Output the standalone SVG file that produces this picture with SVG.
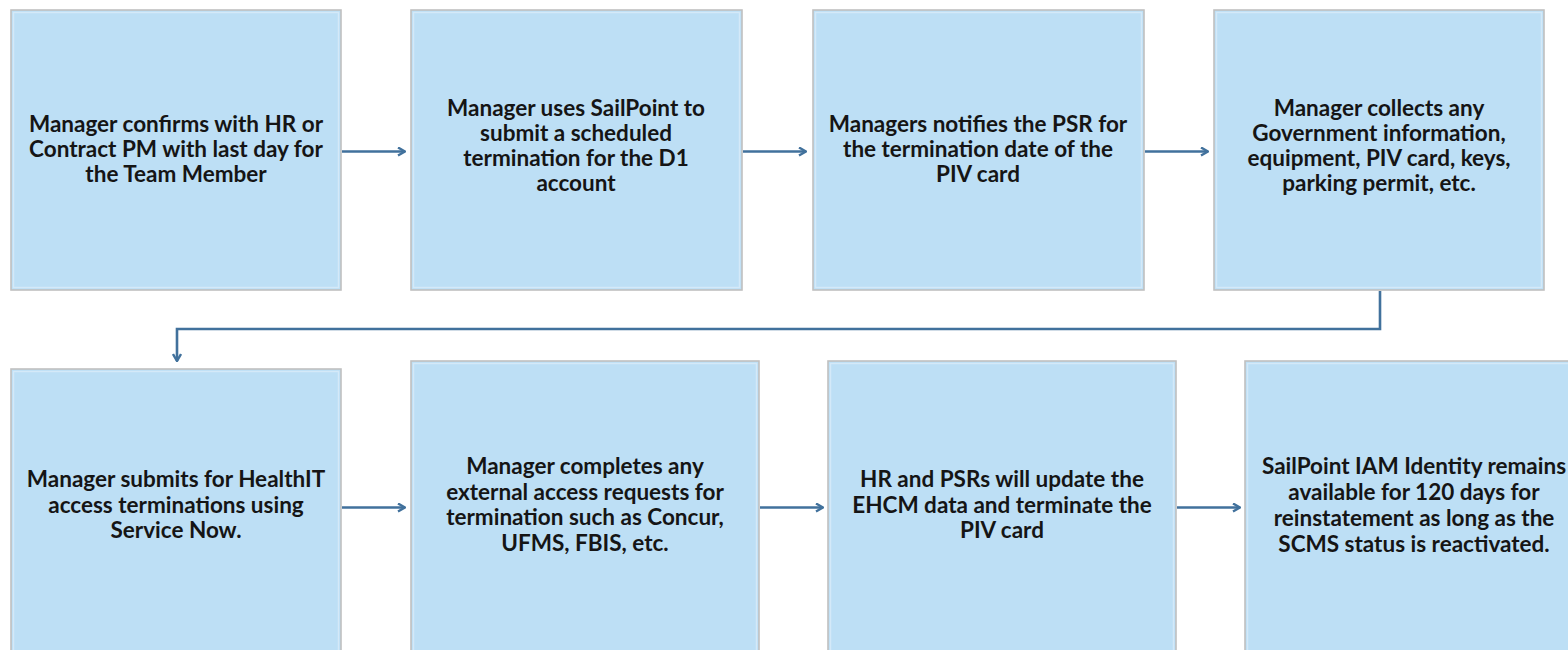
<svg xmlns="http://www.w3.org/2000/svg" width="1568" height="650" viewBox="0 0 1568 650">
  <style>
    .box { fill: #BDDFF5; stroke: #C0C0C0; stroke-width: 1.6; }
    .inner { fill: none; stroke: #D4E9F8; stroke-width: 1.4; }
    .lbl { font-family: Lato, "Open Sans", "Liberation Sans", sans-serif; font-weight: 700; font-size: 22.5px; fill: #151515; text-anchor: middle; }
    .conn { fill: none; stroke: #41719C; stroke-width: 2.6; }
  </style>
  <defs>
    <marker id="chev" viewBox="0 0 10 10" refX="9" refY="5" markerWidth="10" markerHeight="10" markerUnits="userSpaceOnUse" orient="auto">
      <path d="M2,1 L9,5 L2,9" fill="none" stroke="#41719C" stroke-width="2.4" stroke-linejoin="miter"/>
    </marker>
  </defs>
  <rect width="1568" height="650" fill="#FFFFFF"/>

  <!-- step 1 -->
  <g id="step1">
    <rect class="box" x="11" y="10" width="330" height="280"/>
    <rect class="inner" x="13.5" y="12.5" width="325" height="275"/>
    <text class="lbl" x="176" y="132">Manager confirms with HR or</text>
    <text class="lbl" x="176" y="157">Contract PM with last day for</text>
    <text class="lbl" x="176" y="182">the Team Member</text>
  </g>

  <!-- step 2 -->
  <g id="step2">
    <rect class="box" x="411" y="10" width="331" height="280"/>
    <rect class="inner" x="413.5" y="12.5" width="326" height="275"/>
    <text class="lbl" x="576" y="116">Manager uses SailPoint to</text>
    <text class="lbl" x="576" y="141">submit a scheduled</text>
    <text class="lbl" x="576" y="166">termination for the D1</text>
    <text class="lbl" x="576" y="191">account</text>
  </g>

  <!-- step 3 -->
  <g id="step3">
    <rect class="box" x="813" y="10" width="331" height="280"/>
    <rect class="inner" x="815.5" y="12.5" width="326" height="275"/>
    <text class="lbl" x="978" y="132">Managers notifies the PSR for</text>
    <text class="lbl" x="978" y="157">the termination date of the</text>
    <text class="lbl" x="978" y="182">PIV card</text>
  </g>

  <!-- step 4 -->
  <g id="step4">
    <rect class="box" x="1214" y="10" width="330" height="280"/>
    <rect class="inner" x="1216.5" y="12.5" width="325" height="275"/>
    <text class="lbl" x="1379" y="116">Manager collects any</text>
    <text class="lbl" x="1379" y="141">Government information,</text>
    <text class="lbl" x="1379" y="166">equipment, PIV card, keys,</text>
    <text class="lbl" x="1379" y="191">parking permit, etc.</text>
  </g>

  <!-- step 5 -->
  <g id="step5">
    <rect class="box" x="11" y="369" width="330" height="300"/>
    <rect class="inner" x="13.5" y="371.5" width="325" height="295"/>
    <text class="lbl" x="176" y="487">Manager submits for HealthIT</text>
    <text class="lbl" x="176" y="513">access terminations using</text>
    <text class="lbl" x="176" y="538">Service Now.</text>
  </g>

  <!-- step 6 -->
  <g id="step6">
    <rect class="box" x="411" y="361" width="348" height="310"/>
    <rect class="inner" x="413.5" y="363.5" width="343" height="305"/>
    <text class="lbl" x="585" y="474">Manager completes any</text>
    <text class="lbl" x="585" y="500">external access requests for</text>
    <text class="lbl" x="585" y="525">termination such as Concur,</text>
    <text class="lbl" x="585" y="551">UFMS, FBIS, etc.</text>
  </g>

  <!-- step 7 -->
  <g id="step7">
    <rect class="box" x="828" y="361" width="348" height="310"/>
    <rect class="inner" x="830.5" y="363.5" width="343" height="305"/>
    <text class="lbl" x="1002" y="487">HR and PSRs will update the</text>
    <text class="lbl" x="1002" y="513">EHCM data and terminate the</text>
    <text class="lbl" x="1002" y="538">PIV card</text>
  </g>

  <!-- step 8 -->
  <g id="step8">
    <rect class="box" x="1245" y="361" width="348" height="310"/>
    <rect class="inner" x="1247.5" y="363.5" width="343" height="305"/>
    <text class="lbl" x="1414" y="474">SailPoint IAM Identity remains</text>
    <text class="lbl" x="1414" y="500">available for 120 days for</text>
    <text class="lbl" x="1414" y="526">reinstatement as long as the</text>
    <text class="lbl" x="1414" y="552">SCMS status is reactivated.</text>
  </g>

  <!-- connectors -->
  <g id="connectors">
    <path class="conn" d="M342,151.5 H405" marker-end="url(#chev)"/>
    <path class="conn" d="M743,151.5 H806" marker-end="url(#chev)"/>
    <path class="conn" d="M1145,151.5 H1208" marker-end="url(#chev)"/>
    <path class="conn" d="M1380,291 V329 H177 V361" marker-end="url(#chev)"/>
    <path class="conn" d="M342,507.5 H405" marker-end="url(#chev)"/>
    <path class="conn" d="M760,507.5 H823" marker-end="url(#chev)"/>
    <path class="conn" d="M1177,507.5 H1240" marker-end="url(#chev)"/>
  </g>
</svg>
